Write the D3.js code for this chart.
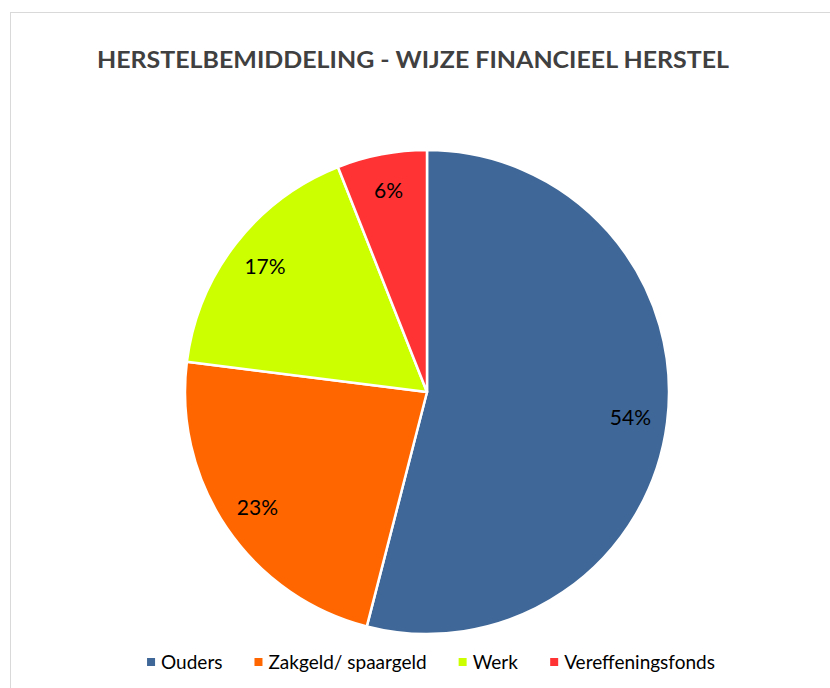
<!DOCTYPE html>
<html>
<head>
<meta charset="utf-8">
<script src="https://cdn.jsdelivr.net/npm/d3@7"></script>
<style>
  html, body { margin: 0; padding: 0; background: #fff; }
  svg { display: block; font-family: Lato, "Open Sans", sans-serif; }
</style>
</head>
<body>
<div id="chart"></div>
<script>
// data
const categories = ['Ouders', 'Zakgeld/ spaargeld', 'Werk', 'Vereffeningsfonds'];
const values = [54, 23, 17, 6];
const colors = ['#3F6797', '#FF6600', '#CCFF00', '#FF3333'];
const title = 'HERSTELBEMIDDELING - WIJZE FINANCIEEL HERSTEL';

const width = 830, height = 688;
const cx = 427, cy = 392, radius = 242;

const svg = d3.select('#chart').append('svg')
    .attr('width', width)
    .attr('height', height);

// chart frame (right and bottom run off the picture)
svg.append('rect')
    .attr('x', 10.5).attr('y', 12.5)
    .attr('width', 840).attr('height', 700)
    .attr('fill', '#fff')
    .attr('stroke', '#d9d9d9')
    .attr('stroke-width', 1);

svg.append('text')
    .attr('x', 413).attr('y', 68)
    .attr('text-anchor', 'middle')
    .attr('font-size', 22)
    .attr('font-weight', 'bold')
    .attr('fill', '#404040')
    .attr('textLength', 632)
    .attr('lengthAdjust', 'spacingAndGlyphs')
    .text(title);

const data = categories.map((c, i) => ({ name: c, value: values[i], color: colors[i] }));
const pie = d3.pie().value(d => d.value).sort(null);
const arc = d3.arc().innerRadius(0).outerRadius(radius);
const labelArc = d3.arc().innerRadius(205).outerRadius(205);
const total = d3.sum(values);

const g = svg.append('g').attr('transform', `translate(${cx},${cy})`);
const arcs = pie(data);

g.selectAll('path')
    .data(arcs)
    .join('path')
    .attr('d', arc)
    .attr('fill', d => d.data.color)
    .attr('stroke', '#fff')
    .attr('stroke-width', 2.5)
    .attr('stroke-linejoin', 'round');

g.selectAll('text.lbl')
    .data(arcs)
    .join('text')
    .attr('class', 'lbl')
    .attr('transform', d => `translate(${labelArc.centroid(d)})`)
    .attr('text-anchor', 'middle')
    .attr('dy', '0.35em')
    .attr('font-size', 21)
    .attr('fill', '#000')
    .text(d => Math.round(d.data.value / total * 100) + '%');

// legend
const legend = svg.append('g');
const items = legend.selectAll('g')
    .data(data)
    .join('g');
items.append('rect')
    .attr('width', 8).attr('height', 8)
    .attr('y', -4)
    .attr('fill', d => d.color);
items.append('text')
    .attr('x', 14)
    .attr('dy', '0.35em')
    .attr('font-size', 19)
    .attr('fill', '#000')
    .text(d => d.name);

let xPos = 0;
items.each(function () {
    const w = this.getBBox().width;
    d3.select(this).attr('transform', `translate(${xPos},0)`);
    xPos += w + 32;
});
const legendWidth = xPos - 32;
legend.attr('transform', `translate(${431 - legendWidth / 2},662)`);
</script>
</body>
</html>
